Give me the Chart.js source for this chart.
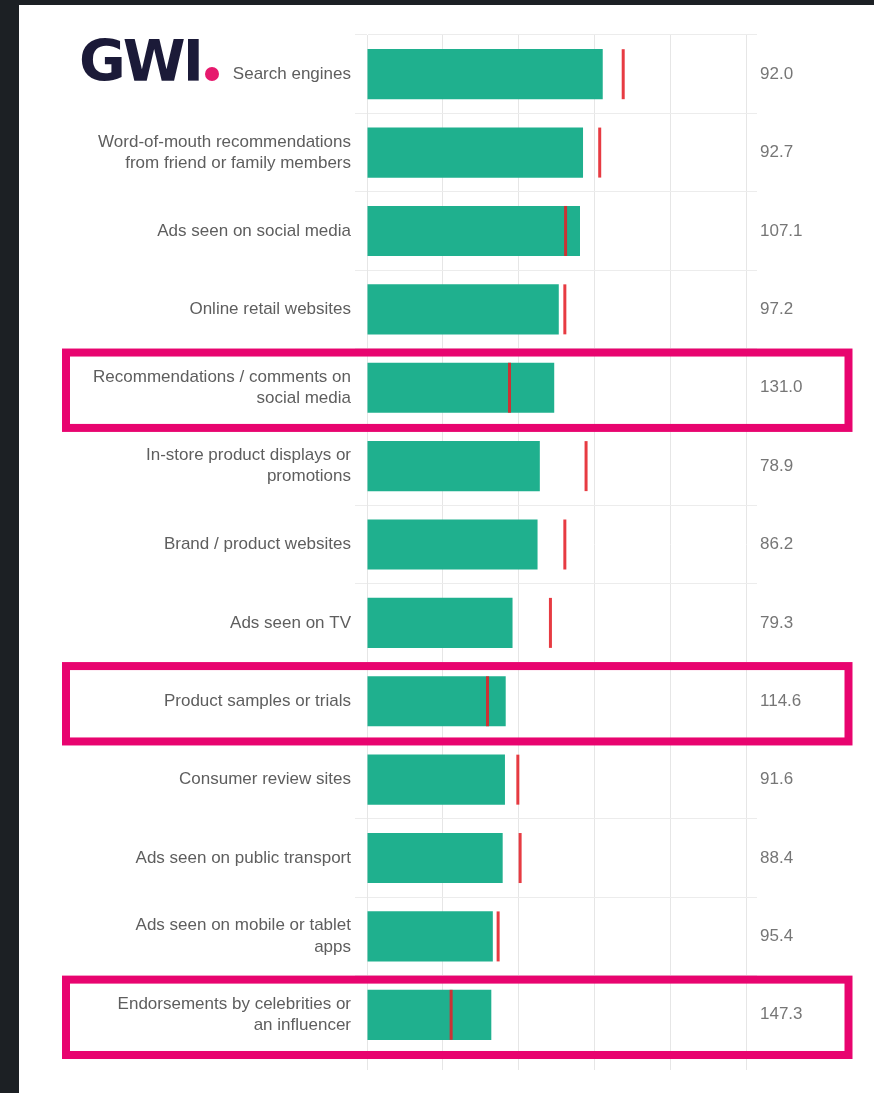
<!DOCTYPE html>
<html>
<head>
<meta charset="utf-8">
<script src="https://cdn.jsdelivr.net/npm/chart.js@4.4.1/dist/chart.umd.min.js"></script>
<style>
  html, body { margin: 0; padding: 0; }
  body { width: 874px; height: 1093px; background: #1c2024; position: relative; overflow: hidden; }
  #panel { position: absolute; left: 19px; top: 5px; right: 0; bottom: 0; background: #ffffff; }
  #chart { position: absolute; left: 0; top: 0; }
  #logo { position: absolute; left: 79px; top: 28px; font-family: "DejaVu Sans", sans-serif; font-weight: bold;
          font-size: 57px; line-height: 66px; color: #1b1a38; letter-spacing: -3px; }
  #dot { position: absolute; left: 205px; top: 67px; width: 14px; height: 14px; border-radius: 50%; background: #e6196d; }
</style>
</head>
<body>
<div id="panel"></div>
<canvas id="chart" width="874" height="1093"></canvas>
<div id="logo">GWI</div>
<div id="dot"></div>
<script>
// ---- data ----
const categories = [
  "Search engines",
  ["Word-of-mouth recommendations", "from friend or family members"],
  "Ads seen on social media",
  "Online retail websites",
  ["Recommendations / comments on", "social media"],
  ["In-store product displays or", "promotions"],
  "Brand / product websites",
  "Ads seen on TV",
  "Product samples or trials",
  "Consumer review sites",
  "Ads seen on public transport",
  ["Ads seen on mobile or tablet", "apps"],
  ["Endorsements by celebrities or", "an influencer"]
];
const shareValues   = [31.1, 28.5, 28.1, 25.3, 24.7, 22.8, 22.5, 19.2, 18.3, 18.2, 17.9, 16.6, 16.4];
const averageValues = [33.8, 30.7, 26.2, 26.1, 18.8, 28.9, 26.1, 24.2, 15.9, 19.9, 20.2, 17.3, 11.1];
const indexValues   = ["92.0", "92.7", "107.1", "97.2", "131.0", "78.9", "86.2", "79.3", "114.6", "91.6", "88.4", "95.4", "147.3"];
const highlightedRows = [4, 8, 12];
const axisMin = 0, axisMax = 50, axisStep = 10;

// ---- styles ----
const labelFont = { family: "'Liberation Sans', Arial, sans-serif", size: 17, lineHeight: 1.25 };
const gridColor = '#e6e6e6';

const highlightPlugin = {
  id: 'highlightRows',
  afterDraw(chart) {
    const ctx = chart.ctx;
    const y = chart.scales.y;
    const half = (y.getPixelForValue(1) - y.getPixelForValue(0)) / 2;
    ctx.save();
    ctx.strokeStyle = '#e8046f';
    ctx.lineWidth = 8;
    highlightedRows.forEach(i => {
      const yc = y.getPixelForValue(i);
      const top = yc - half + 4;
      const bottom = yc + half + 1;
      ctx.strokeRect(66, top, 848.5 - 66, bottom - top);
    });
    ctx.restore();
  }
};

new Chart(document.getElementById('chart'), {
  type: 'bar',
  data: {
    labels: categories,
    datasets: [
      {
        type: 'line',
        label: 'Average',
        data: averageValues,
        indexAxis: 'y',
        xAxisID: 'x',
        yAxisID: 'y',
        showLine: false,
        pointStyle: 'line',
        pointRotation: 90,
        pointRadius: 25,
        pointHoverRadius: 25,
        pointBorderWidth: 3,
        pointBorderColor: 'rgba(228,32,40,0.88)',
        pointBackgroundColor: 'rgba(228,32,40,0.88)',
        order: 0
      },
      {
        type: 'bar',
        label: 'Share',
        data: shareValues,
        xAxisID: 'x',
        yAxisID: 'y',
        backgroundColor: '#1fb08e',
        borderWidth: 0,
        barPercentage: 0.64,
        categoryPercentage: 1.0,
        order: 1
      }
    ]
  },
  options: {
    indexAxis: 'y',
    responsive: false,
    animation: false,
    devicePixelRatio: 1,
    layout: { padding: { top: 35, bottom: 23, left: 0, right: 0 } },
    plugins: { legend: { display: false }, tooltip: { enabled: false } },
    scales: {
      x: {
        type: 'linear',
        position: 'bottom',
        min: axisMin, max: axisMax,
        ticks: { display: false, stepSize: axisStep },
        grid: { color: gridColor, drawTicks: true, tickLength: 16 },
        border: { display: false },
        afterFit: s => { s.height = 16; }
      },
      y: {
        type: 'category',
        position: 'left',
        offset: true,
        grid: { offset: true, color: '#ececec', drawTicks: true, tickLength: 12 },
        border: { display: true, color: gridColor },
        ticks: { font: labelFont, color: '#5e5e5e', padding: 4, autoSkip: false },
        afterFit: s => { s.width = 367; }
      },
      y2: {
        type: 'category',
        position: 'right',
        labels: indexValues,
        offset: true,
        grid: { offset: true, drawOnChartArea: false, color: '#ececec', drawTicks: true, tickLength: 11 },
        border: { display: false },
        ticks: { font: labelFont, color: '#767676', padding: 3, autoSkip: false },
        afterFit: s => { s.width = 128; }
      }
    }
  },
  plugins: [highlightPlugin]
});
</script>
</body>
</html>
